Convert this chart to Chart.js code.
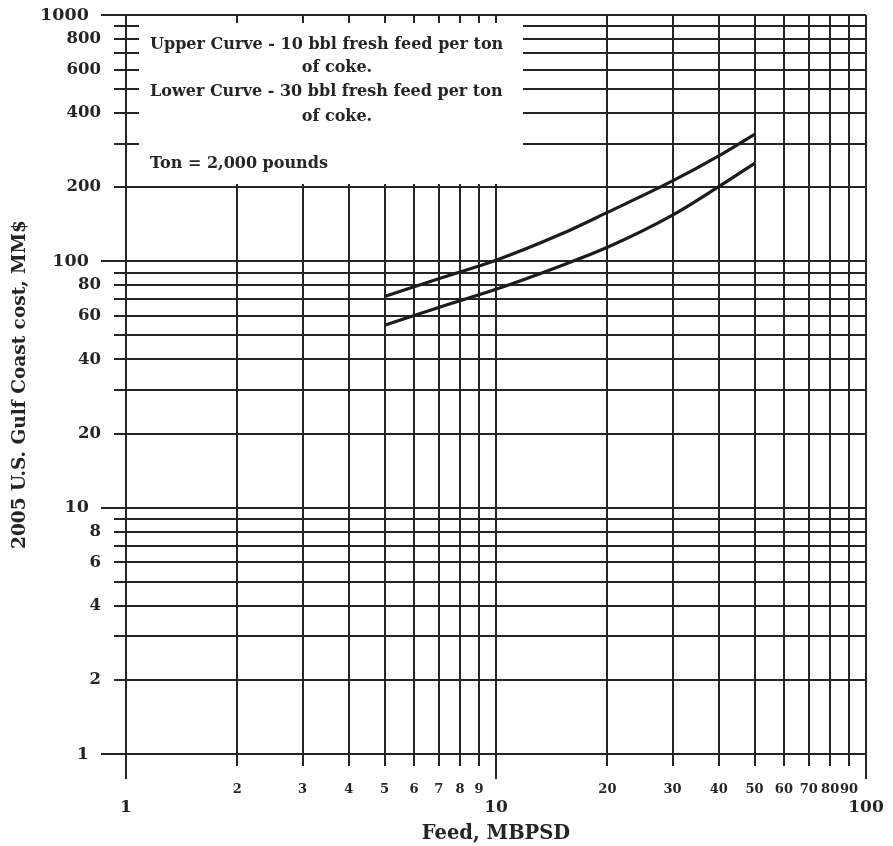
<!DOCTYPE html>
<html>
<head>
<meta charset="utf-8">
<script src="https://cdn.jsdelivr.net/npm/chart.js@4.4.1/dist/chart.umd.min.js"></script>
<style>
  html, body { margin: 0; padding: 0; background: #fff; }
</style>
</head>
<body>
<canvas id="graficoCoque" width="893" height="846"></canvas>
<script>
// Curvas (Feed em MBPSD, custo em MM$)
const feed = [5, 7, 10, 15, 20, 30, 40, 50];
const upperCurve = [72, 85, 101, 129, 158, 212, 268, 328];
const lowerCurve = [55, 65, 77, 96, 114, 154, 201, 250];

// grade log-log
const xGrid = [1, 2, 3, 4, 5, 6, 7, 8, 9, 10, 20, 30, 40, 50, 60, 70, 80, 90, 100];
const xLabels = [1, 2, 3, 4, 5, 6, 7, 8, 9, 10, 20, 30, 40, 50, 60, 70, 80, 90, 100];
const yGrid = [1, 2, 3, 4, 5, 6, 7, 8, 9, 10, 20, 30, 40, 50, 60, 70, 80, 90,
               100, 200, 300, 400, 500, 600, 700, 800, 900, 1000];
const yLabels = [1, 2, 4, 6, 8, 10, 20, 40, 60, 80, 100, 200, 400, 600, 800, 1000];
const decades = [1, 10, 100, 1000];

const noteLines = [
  'Upper Curve - 10 bbl fresh feed per ton',
  'of coke.',
  'Lower Curve - 30 bbl fresh feed per ton',
  'of coke.',
  'Ton = 2,000 pounds'
];

const INK = '#252525';
const SERIF = '"DejaVu Serif", serif';

// caixa de nota + ticks maiores nas decadas
const notaPlugin = {
  id: 'nota',
  afterDraw(chart) {
    const { ctx, chartArea: a } = chart;
    const xs = chart.scales.x, ys = chart.scales.y;
    ctx.save();
    ctx.strokeStyle = INK;
    ctx.lineWidth = 2;
    ctx.beginPath();
    decades.forEach(v => {
      if (v <= 100) {
        const px = Math.round(xs.getPixelForValue(v));
        ctx.moveTo(px, a.bottom + 10);
        ctx.lineTo(px, a.bottom + 25);
      }
      const py = Math.round(ys.getPixelForValue(v));
      ctx.moveTo(a.left - 10, py);
      ctx.lineTo(a.left - 25, py);
    });
    ctx.stroke();

    const bx = a.left + 13, by = a.top + 8;
    ctx.fillStyle = '#fff';
    ctx.fillRect(bx, by, 384, 161);
    ctx.fillStyle = INK;
    ctx.font = 'bold 16px ' + SERIF;
    ctx.textBaseline = 'middle';
    const rows = [30, 53, 77, 102, 149];
    noteLines.forEach((t, i) => {
      if (t === 'of coke.') {
        ctx.textAlign = 'center';
        ctx.fillText(t, bx + 198, a.top + rows[i]);
      } else {
        ctx.textAlign = 'left';
        ctx.fillText(t, bx + 11, a.top + rows[i]);
      }
    });
    ctx.restore();
  }
};

// o Chart.js reserva espaco extra p/ os rotulos das pontas, zera isso
const semPadding = s => {
  s.paddingLeft = 0; s.paddingRight = 0; s.paddingTop = 0; s.paddingBottom = 0;
};

const pontos = arr => feed.map((f, i) => ({ x: f, y: arr[i] }));

new Chart(document.getElementById('graficoCoque'), {
  type: 'line',
  data: {
    datasets: [
      { label: 'Upper Curve', data: pontos(upperCurve), borderColor: '#1c1c1c', borderWidth: 3.2,
        pointRadius: 0, cubicInterpolationMode: 'monotone', fill: false },
      { label: 'Lower Curve', data: pontos(lowerCurve), borderColor: '#1c1c1c', borderWidth: 3.2,
        pointRadius: 0, cubicInterpolationMode: 'monotone', fill: false }
    ]
  },
  options: {
    responsive: false,
    animation: false,
    layout: { padding: { left: 0, right: 27, top: 15, bottom: 0 } },
    plugins: { legend: { display: false }, tooltip: { enabled: false } },
    scales: {
      x: {
        type: 'logarithmic',
        min: 1, max: 100,
        afterBuildTicks: s => { s.ticks = xGrid.map(v => ({ value: v })); },
        afterFit: s => { s.height = 92; semPadding(s); },
        grid: { color: INK, lineWidth: 2, tickLength: 12, tickColor: INK },
        border: { color: INK, width: 2 },
        ticks: {
          autoSkip: false, maxRotation: 0, padding: 16, color: INK,
          font: c => decades.includes(c.tick && c.tick.value)
            ? { family: SERIF, size: 17, weight: 'bold', lineHeight: 1 }
            : { family: SERIF, size: 13, weight: 'bold', lineHeight: 1.2 },
          callback: v => {
            if (!xLabels.includes(v)) return '';
            return decades.includes(v) ? ['', String(v)] : String(v);
          }
        },
        title: { display: true, text: 'Feed, MBPSD', color: INK,
                 font: { family: SERIF, size: 19.5, weight: 'bold' }, padding: { top: 0, bottom: 0 } }
      },
      y: {
        type: 'logarithmic',
        min: 1, max: 1000,
        afterBuildTicks: s => { s.ticks = yGrid.map(v => ({ value: v })); },
        afterFit: s => { s.width = 126; semPadding(s); },
        grid: { color: INK, lineWidth: 2, tickLength: 12, tickColor: INK },
        border: { color: INK, width: 2 },
        ticks: {
          autoSkip: false, padding: 13, color: INK,
          font: c => decades.includes(c.tick && c.tick.value)
            ? { family: SERIF, size: 17.5, weight: 'bold' }
            : { family: SERIF, size: 16.5, weight: 'bold' },
          callback: v => {
            if (!yLabels.includes(v)) return '';
            return decades.includes(v) ? v + '  ' : String(v);
          }
        },
        title: { display: true, text: '2005 U.S. Gulf Coast cost, MM$', color: INK,
                 font: { family: SERIF, size: 18.5, weight: 'bold' }, padding: { top: 9, bottom: 0 } }
      }
    }
  },
  plugins: [notaPlugin]
});
</script>
</body>
</html>
